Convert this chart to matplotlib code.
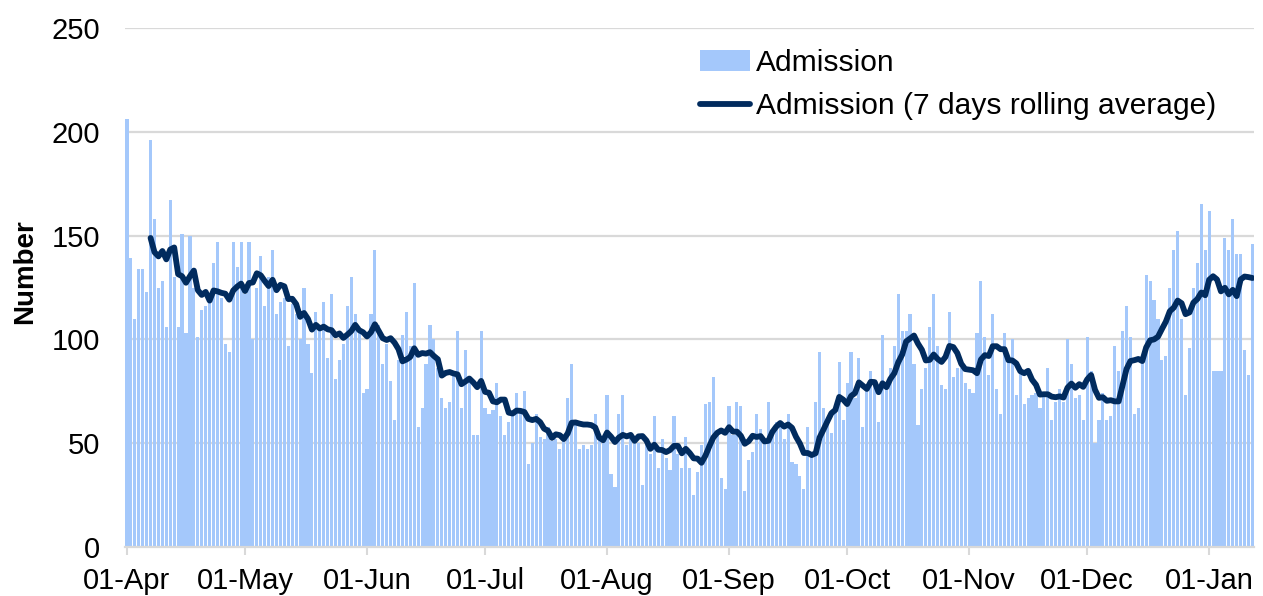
import numpy as np
import pandas as pd
import matplotlib
matplotlib.use('Agg')
import matplotlib.pyplot as plt
import matplotlib.dates as mdates
from matplotlib.patches import Patch
from matplotlib.lines import Line2D

start_date = '2022-04-01'

admissions = [
    206, 139, 110, 134, 134, 123, 196, 158, 125, 128, 106, 167, 130, 106, 151, 103,
    150, 125, 101, 114, 116, 122, 137, 147, 120, 98, 94, 147, 135, 147, 122, 147, 100,
    125, 140, 116, 130, 143, 112, 118, 120, 97, 117, 112, 100, 125, 98, 84, 113, 105,
    118, 91, 122, 81, 90, 98, 116, 130, 112, 104, 74, 76, 112, 143, 107, 88,
    98, 80, 61, 90, 102, 113, 97, 127, 58, 67, 88, 107, 100, 86, 72, 67, 70, 83, 104,
    67, 95, 82, 54, 54, 104, 67, 64, 66, 79, 63, 54, 60,
    64, 74, 65, 75, 40, 50, 64, 53, 52, 58, 51, 52, 47, 51, 72, 88, 59, 47, 49, 47,
    49, 64, 54, 50, 73, 35, 29, 64, 73, 49, 55, 53, 50,
    30, 49, 45, 63, 38, 52, 43, 37, 63, 45, 38, 53, 38, 25, 36, 49, 69, 70, 82, 54,
    33, 28, 68, 54, 70, 68, 27, 42, 46, 64, 57, 52, 70, 57,
    60, 58, 52, 64, 41, 40, 34, 28, 58, 45, 70, 94, 67, 62, 55, 69, 89, 61, 79, 94,
    72, 91, 58, 78, 85, 78, 60, 102, 78, 86, 97, 122, 104,
    104, 112, 88, 59, 76, 86, 106, 122, 97, 78, 76, 113, 82, 86, 86, 79, 76, 74, 103,
    128, 101, 83, 112, 76, 64, 103, 91, 100, 73, 86, 69, 72, 73,
    74, 67, 74, 86, 61, 70, 76, 70, 100, 88, 72, 73, 61, 101, 85, 50, 61, 74, 61, 63,
    97, 85, 104, 116, 101, 64, 67, 90, 131, 128, 119, 110, 90, 92,
    125, 143, 152, 110, 73, 96, 125, 137, 165, 143, 162, 85, 85, 85, 149, 143, 158,
    141, 141, 95, 83, 146,
]

y_ticks = [0, 50, 100, 150, 200, 250]
bar_label = 'Admission'
line_label = 'Admission (7 days rolling average)'
y_title = 'Number'

dates = pd.date_range(start_date, periods=len(admissions), freq='D')
rolling = pd.Series(admissions, index=dates).rolling(7).mean()
tick_dates = pd.date_range(start_date, dates[-1], freq='MS')

plt.rcParams['font.family'] = ['Liberation Sans', 'DejaVu Sans']

W, H = 1263, 596
fig = plt.figure(figsize=(W / 100, H / 100), dpi=100)
ax = fig.add_axes([125 / W, 1 - 547 / H, (1254.4 - 125) / W, (547 - 28) / H])

bar_color = '#A4C8FB'
line_color = '#012B5E'
grid_color = '#D9D9D9'

ax.bar(dates, admissions, width=0.8, color=bar_color, zorder=2)
ax.plot(dates, rolling.values, color=line_color, lw=4.2,
        solid_capstyle='round', solid_joinstyle='round', zorder=3)

ax.set_ylim(0, 250)
ax.set_xlim(dates[0] - pd.Timedelta(hours=12), dates[-1] + pd.Timedelta(hours=12))
ax.set_yticks(y_ticks)
ax.yaxis.grid(True, color=grid_color, lw=1.6, zorder=0)
ax.set_axisbelow(True)
for s in ['top', 'right', 'left']:
    ax.spines[s].set_visible(False)
ax.spines['bottom'].set_color(grid_color)
ax.spines['bottom'].set_linewidth(1.6)

ax.set_xticks(tick_dates)
ax.xaxis.set_major_formatter(mdates.DateFormatter('%d-%b'))
ax.tick_params(axis='x', length=6, width=1.5, color=grid_color, labelsize=21,
               pad=8.5, labelcolor='black')
ax.tick_params(axis='y', length=0, labelsize=21, pad=18, labelcolor='black')

fig.text(25 / W, 1 - 272 / H, y_title, rotation=90, fontweight='bold',
         fontsize=20, va='center', ha='center')

handles = [Patch(facecolor=bar_color, edgecolor='none', label=bar_label),
           Line2D([0], [0], color=line_color, lw=4.2, solid_capstyle='round',
                  label=line_label)]
ax.legend(handles=handles, loc='upper left', bbox_to_anchor=(700 / W, 1 - 49 / H),
          bbox_transform=fig.transFigure, frameon=False, fontsize=21.6,
          handlelength=1.65, handletextpad=0.2, labelspacing=0.5,
          borderpad=0, borderaxespad=0)

fig.savefig('out.png', dpi=100)
